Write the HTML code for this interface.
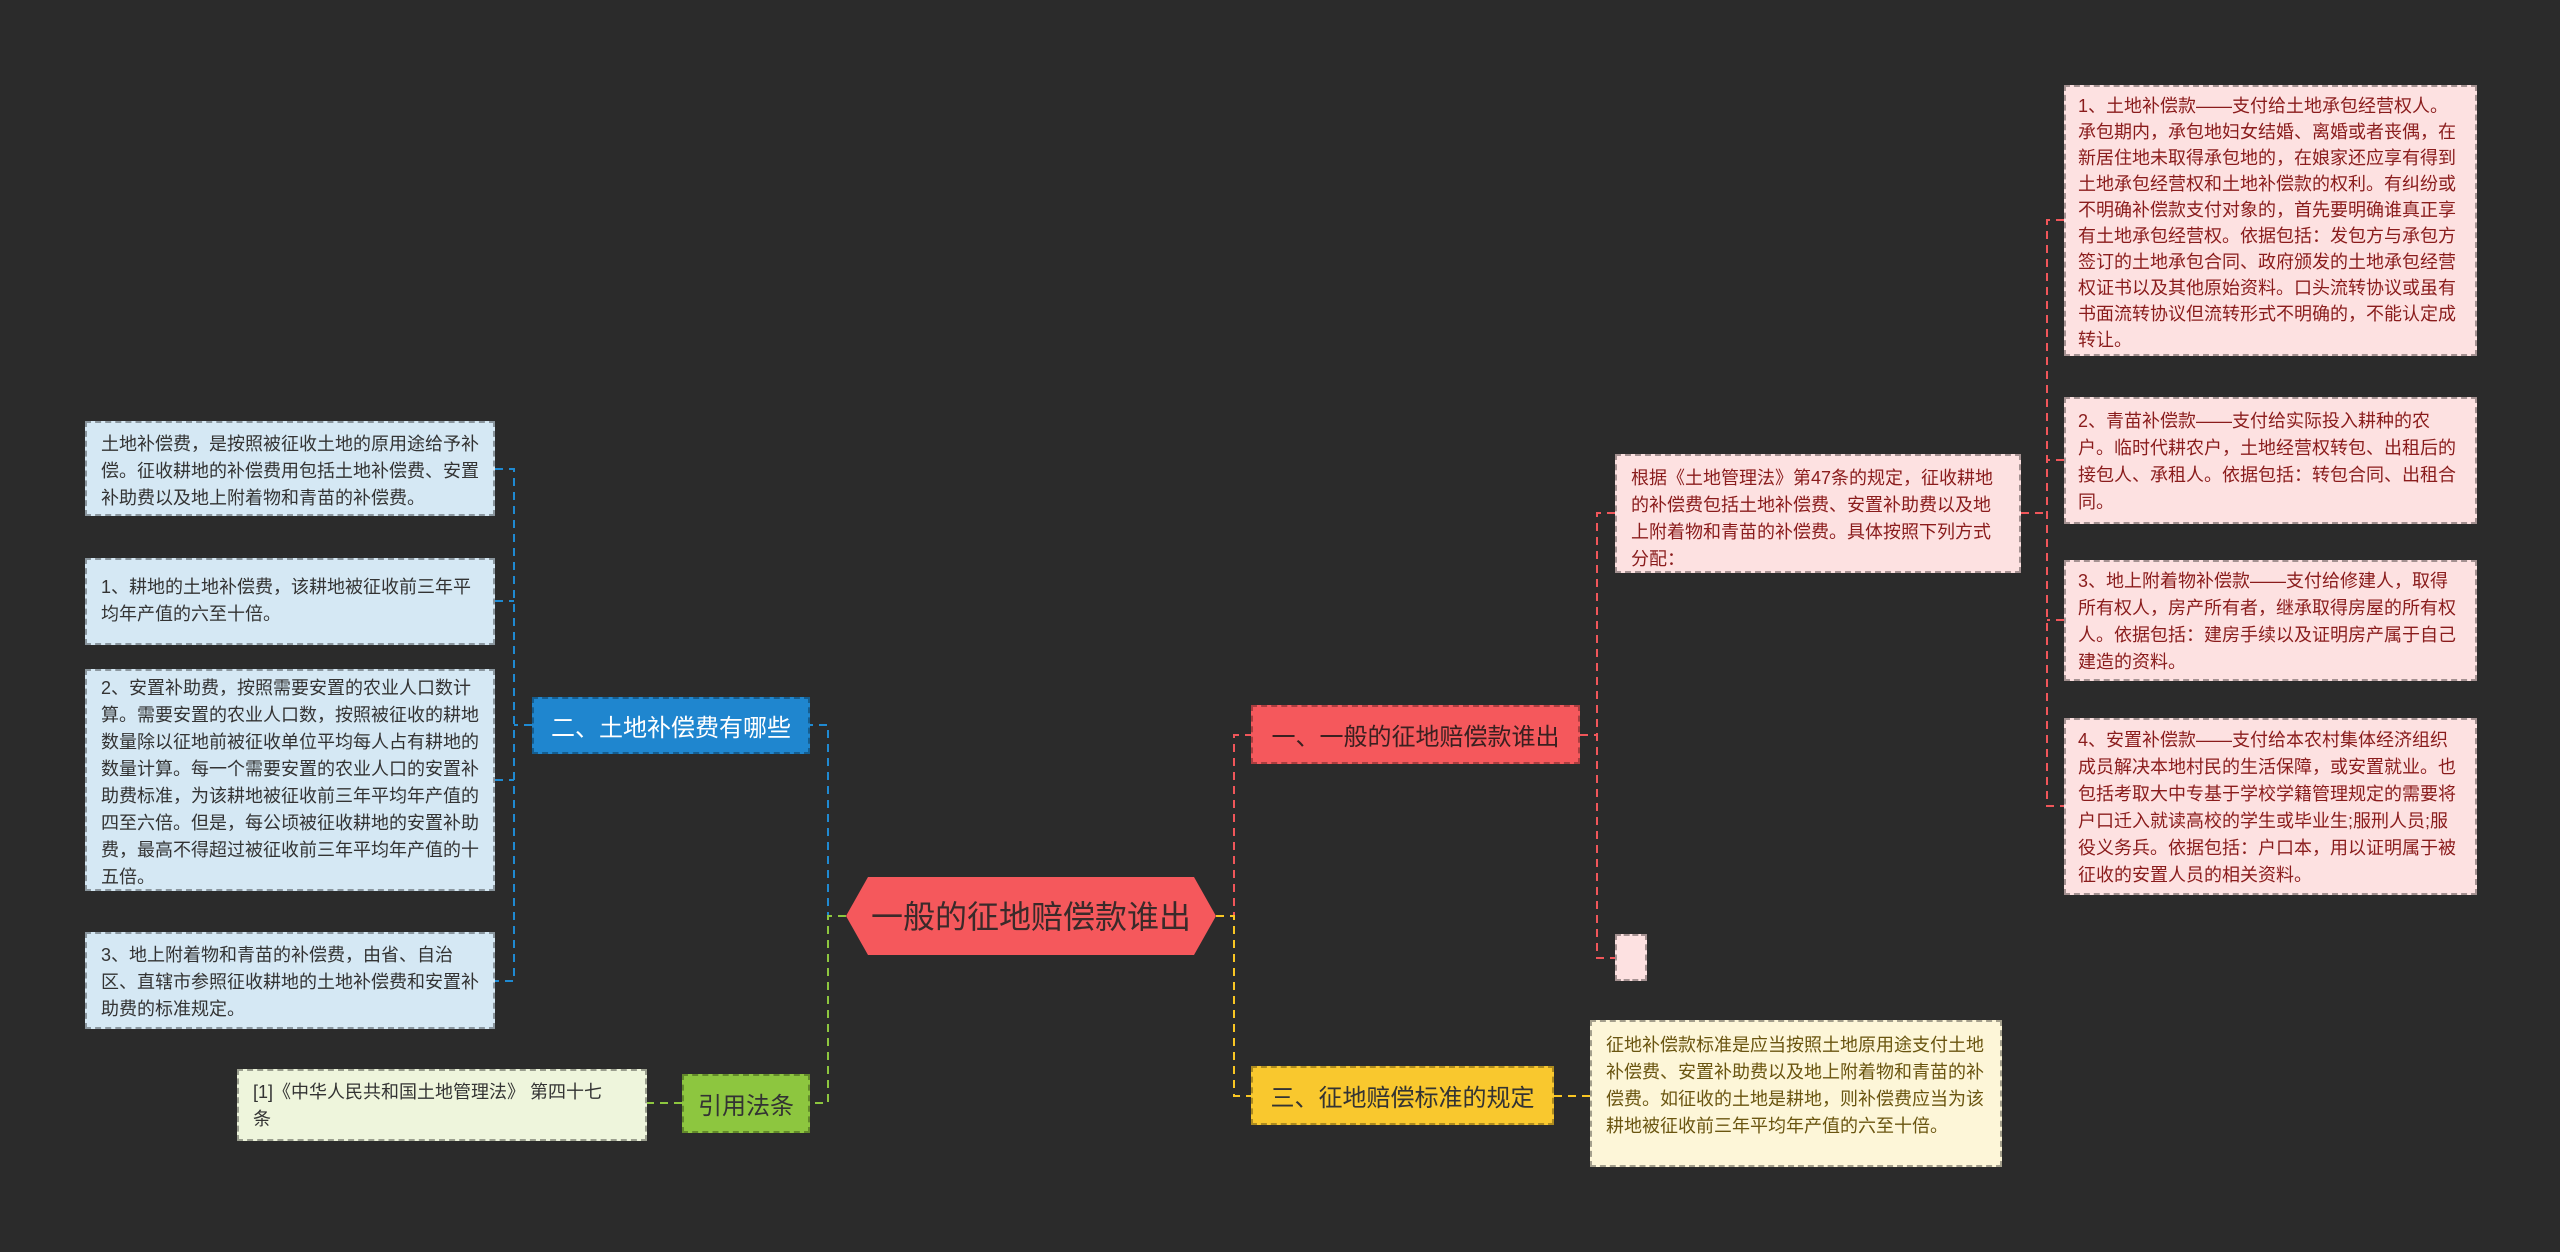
<!DOCTYPE html>
<html><head><meta charset="utf-8"><style>
html,body{margin:0;padding:0}
body{width:2560px;height:1252px;background:#2b2b2b;position:relative;overflow:hidden;font-family:"Liberation Sans","Noto Sans CJK SC",sans-serif}
.b{position:absolute;box-sizing:border-box;border:2px dashed rgba(0,0,0,0.35);font-size:18px;line-height:27px;padding:10px 14px;word-break:break-all;overflow:hidden}
.blue{background:#d5e8f4;color:#333}
.pink{background:#fde1e1;color:#8a1c1c}
.yel{background:#fdf6d8;color:#6a5510}
.grn{background:#eef5dc;color:#333}
.n{position:absolute;box-sizing:border-box;border:2px dashed rgba(0,0,0,0.3);font-size:24px;display:flex;align-items:center;justify-content:center;white-space:nowrap}
</style></head><body>
<svg width="2560" height="1252" style="position:absolute;left:0;top:0">
<g fill="none" stroke-width="2" stroke-dasharray="8,6">
<path d="M846 916 H828 V725 H810" stroke="#1f8ad2"/>
<path d="M846 916 H828 V1103 H810" stroke="#8dc63f"/>
<path d="M1216 916 H1234 V735 H1251" stroke="#f0565a"/>
<path d="M1216 916 H1234 V1096 H1251" stroke="#f9c623"/>
<path d="M532 725 H514" stroke="#1f8ad2"/>
<path d="M495 469 H514 V981 H495 M495 601 H514 M495 780 H514" stroke="#1f8ad2"/>
<path d="M682 1103 H647" stroke="#8dc63f"/>
<path d="M1580 735 H1597" stroke="#f0565a"/>
<path d="M1615 513 H1597 V958 H1615" stroke="#f0565a"/>
<path d="M2021 513 H2047" stroke="#f0565a"/>
<path d="M2064 220 H2047 V806 H2064 M2064 460 H2047 M2064 620 H2047" stroke="#f0565a"/>
<path d="M1554 1096 H1590" stroke="#f9c623"/>
</g>
<polygon points="846,916 868,877 1194,877 1216,916 1194,955 868,955" fill="#f5585c"/>
<text x="1031" y="928" text-anchor="middle" font-size="32" fill="#3a2a2a" font-family="Liberation Sans, Noto Sans CJK SC, sans-serif">一般的征地赔偿款谁出</text>
</svg>

<div class="n" style="left:532px;top:697px;width:278px;height:57px;background:#1f86cf;color:#fff">二、土地补偿费有哪些</div>
<div class="n" style="left:682px;top:1074px;width:128px;height:59px;background:#8dc63f;color:#333">引用法条</div>
<div class="n" style="left:1251px;top:705px;width:329px;height:59px;background:#f5585c;color:#3a2020">一、一般的征地赔偿款谁出</div>
<div class="n" style="left:1251px;top:1066px;width:303px;height:59px;background:#f9c82e;color:#333">三、征地赔偿标准的规定</div>

<div class="b blue" style="left:85px;top:421px;width:410px;height:95px;padding-top:8px">土地补偿费，是按照被征收土地的原用途给予补偿。征收耕地的补偿费用包括土地补偿费、安置补助费以及地上附着物和青苗的补偿费。</div>
<div class="b blue" style="left:85px;top:558px;width:410px;height:87px;padding-top:14px">1、耕地的土地补偿费，该耕地被征收前三年平均年产值的六至十倍。</div>
<div class="b blue" style="left:85px;top:669px;width:410px;height:222px;padding-top:4px">2、安置补助费，按照需要安置的农业人口数计算。需要安置的农业人口数，按照被征收的耕地数量除以征地前被征收单位平均每人占有耕地的数量计算。每一个需要安置的农业人口的安置补助费标准，为该耕地被征收前三年平均年产值的四至六倍。但是，每公顷被征收耕地的安置补助费，最高不得超过被征收前三年平均年产值的十五倍。</div>
<div class="b blue" style="left:85px;top:932px;width:410px;height:97px;padding-top:8px">3、地上附着物和青苗的补偿费，由省、自治区、直辖市参照征收耕地的土地补偿费和安置补助费的标准规定。</div>
<div class="b grn" style="left:237px;top:1069px;width:410px;height:72px;padding:8px 40px 8px 14px">[1]《中华人民共和国土地管理法》 第四十七条</div>

<div class="b pink" style="left:1615px;top:454px;width:406px;height:119px;padding-top:9px">根据《土地管理法》第47条的规定，征收耕地的补偿费包括土地补偿费、安置补助费以及地上附着物和青苗的补偿费。具体按照下列方式分配：</div>
<div class="b pink" style="left:1615px;top:934px;width:32px;height:47px;padding:0"></div>
<div class="b yel" style="left:1590px;top:1020px;width:412px;height:147px;padding-top:10px">征地补偿款标准是应当按照土地原用途支付土地补偿费、安置补助费以及地上附着物和青苗的补偿费。如征收的土地是耕地，则补偿费应当为该耕地被征收前三年平均年产值的六至十倍。</div>

<div class="b pink" style="left:2064px;top:85px;width:413px;height:271px;padding:6px 12px;line-height:26px">1、土地补偿款——支付给土地承包经营权人。承包期内，承包地妇女结婚、离婚或者丧偶，在新居住地未取得承包地的，在娘家还应享有得到土地承包经营权和土地补偿款的权利。有纠纷或不明确补偿款支付对象的，首先要明确谁真正享有土地承包经营权。依据包括：发包方与承包方签订的土地承包合同、政府颁发的土地承包经营权证书以及其他原始资料。口头流转协议或虽有书面流转协议但流转形式不明确的，不能认定成转让。</div>
<div class="b pink" style="left:2064px;top:397px;width:413px;height:127px;padding:9px 12px">2、青苗补偿款——支付给实际投入耕种的农户。临时代耕农户，土地经营权转包、出租后的接包人、承租人。依据包括：转包合同、出租合同。</div>
<div class="b pink" style="left:2064px;top:560px;width:413px;height:121px;padding:6px 12px">3、地上附着物补偿款——支付给修建人，取得所有权人，房产所有者，继承取得房屋的所有权人。依据包括：建房手续以及证明房产属于自己建造的资料。</div>
<div class="b pink" style="left:2064px;top:718px;width:413px;height:177px;padding:7px 12px">4、安置补偿款——支付给本农村集体经济组织成员解决本地村民的生活保障，或安置就业。也包括考取大中专基于学校学籍管理规定的需要将户口迁入就读高校的学生或毕业生;服刑人员;服役义务兵。依据包括：户口本，用以证明属于被征收的安置人员的相关资料。</div>
</body></html>
